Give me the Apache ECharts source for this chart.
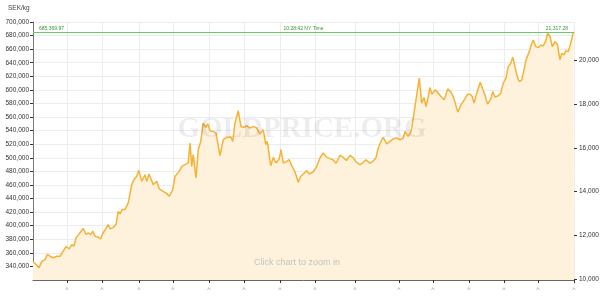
<!DOCTYPE html>
<html><head><meta charset="utf-8">
<script src="https://cdn.jsdelivr.net/npm/echarts@6/dist/echarts.min.js"></script>
<style>html,body{margin:0;padding:0;background:#fff}#c{width:602px;height:301px}</style>
</head><body><div id="c"></div>
<script>
// ---- data ----
const unitLabel = 'SEK/kg';
const timeText = '10:28:42 NY Time';
const currentKg = 685369.97;
const currentOz = 21317.28;
// day offsets from the start of the window
const days = [0,12,24,35,48,57,68,81,95,108,121,132,145,155,164,172,188,201,212,221,231,239,248,261,271,279,292,301,308,319,332,341,348,357,368,381,395,404,415,423,435,448,455,464,481,495,505,521,535,545,559,568,575,585,595,608,621,628,635,641,652,661,671,681,691,699,708,721,732,748,761,775,791,799,808,821,832,844,855,861,868,881,895,908,921,931,937,951,961,972,985,992,1001,1015,1025,1035,1048,1061,1071,1081,1095,1105,1121,1135,1148,1161,1175,1188,1200,1212,1228,1241,1254,1268,1281,1292,1308,1320,1332,1348,1360,1372,1381,1392,1401,1415,1428,1441,1455,1468,1481,1488,1495,1501,1512,1521,1531,1545,1555,1564,1572,1581,1588,1595,1608,1621,1632,1645,1659,1672,1681,1691,1699,1712,1725,1739,1748,1757,1764,1775,1781,1789,1798,1808,1818,1831,1839,1848,1861,1871,1881,1892,1901,1911,1919,1928,1937,1945,1955,1964,1972,1985,1995,2001,2011,2021,2031,2041,2051,2059,2068,2077,2088,2097,2108,2115,2124,2132,2141,2151,2160,2164];
// price, SEK per kg
const prices = [346900,343000,338000,347000,350000,357600,355000,352700,355000,355000,362500,369000,366000,372000,370000,382000,389500,395800,387000,389500,387000,392000,384500,383000,380700,388500,396000,401700,395400,396800,401700,421000,417400,423700,423700,433600,460500,467800,472700,481500,465300,475000,465300,476000,460500,465300,454200,450600,447200,443300,453000,472700,470300,480000,487400,490000,492400,521700,487400,504600,470300,511900,524100,551100,544700,550000,539800,538800,536400,503100,526600,530000,530600,524100,551100,569200,546200,544700,547200,549700,543800,546200,543800,535000,541300,519300,524100,488400,500600,492400,498700,511900,492400,494700,497200,488400,479100,463900,472700,476200,481100,476200,479100,487400,499700,507100,500600,498700,497000,492000,503500,500600,496000,503500,500000,494000,490000,493000,497000,492000,495000,500000,514400,524100,530000,520300,524100,528000,529100,526600,529100,538800,541300,531400,538800,558500,582900,617300,580500,588800,575500,590200,603500,593700,600000,595200,590200,585400,601500,596700,590200,578000,567300,578000,585400,593700,593700,590200,580500,595200,593700,611400,602000,592000,579000,586400,597600,589300,591300,595200,609900,617300,634300,639300,648100,634300,619600,612300,614800,629500,644200,656400,668700,673500,663800,662200,666200,664700,672500,683400,678400,663800,671000,667700,644200,654000,651500,657800,656400,668700,683400,685369.97];
// x-axis tick positions (days) and their labels
const xTicks = [136,276,424,560,704,844,988,1128,1288,1464,1600,1744,1884,2020,2164];
const xTickLabels = ['^','^','^','^','^','^','^','^','^','^','^','^','^','^','^'];
// right axis ticks (SEK/oz)
const ozTicks = [10000,12000,14000,16000,18000,20000];
const watermark = 'GOLDPRICE.ORG';
const hint = 'Click chart to zoom in';

const ratio = currentKg / currentOz;
const fmt = v => v.toLocaleString('en-US');
const fmt2 = v => v.toLocaleString('en-US', {minimumFractionDigits: 2, maximumFractionDigits: 2});
const seriesData = days.map((d, i) => [d, prices[i]]);
const FONT = 'Liberation Sans, Arial, sans-serif';

const chart = echarts.init(document.getElementById('c'), null, {renderer: 'canvas'});
chart.setOption({
  animation: false,
  backgroundColor: '#fff',
  grid: {left: 33, right: 28, top: 22, bottom: 21},
  xAxis: {
    type: 'value', min: 0, max: days[days.length - 1],
    axisLine: {lineStyle: {color: '#666', width: 1}},
    axisTick: {show: true, length: 3, customValues: xTicks, lineStyle: {color: '#333'}},
    axisLabel: {customValues: xTicks, formatter: (v) => xTickLabels[xTicks.indexOf(v)] || '',
      color: '#999', fontSize: 7, margin: 7, fontFamily: FONT},
    splitLine: {show: true, lineStyle: {color: '#ececec', width: 1}}
  },
  yAxis: [{
    type: 'value', position: 'left', min: 320000, max: 700000, interval: 20000,
    axisLine: {show: true, lineStyle: {color: '#777'}},
    axisTick: {show: true, length: 3, lineStyle: {color: '#333'}},
    axisLabel: {formatter: fmt, showMinLabel: false, color: '#333', fontSize: 6.5, margin: 4, fontFamily: FONT},
    splitLine: {show: true, lineStyle: {color: '#ececec', width: 1}}
  }, {
    type: 'value', position: 'right', min: 320000 / ratio, max: 700000 / ratio,
    axisLine: {show: false},
    axisTick: {show: true, length: 3, customValues: ozTicks, lineStyle: {color: '#333'}},
    axisLabel: {customValues: ozTicks, formatter: fmt, color: '#333', fontSize: 6.5, margin: 5, fontFamily: FONT},
    splitLine: {show: false}
  }],
  graphic: [
    {type: 'text', left: 8, top: 5, style: {text: unitLabel, fontSize: 6.5, fill: '#444', fontFamily: FONT}},
    {type: 'text', x: 302, y: 130, z: 100, silent: true, style: {text: watermark, fontSize: 29, fontWeight: 'bold',
      fontFamily: 'Liberation Serif, Times New Roman, serif', fill: 'rgba(0,0,0,0.07)', align: 'center', verticalAlign: 'middle'}},
    {type: 'text', x: 297, y: 263, z: 100, style: {text: hint, fontSize: 9, fill: '#c2c2c2', fontFamily: FONT, align: 'center', verticalAlign: 'middle'}}
  ],
  series: [{
    type: 'line', yAxisIndex: 0, data: seriesData, showSymbol: false, symbol: 'none',
    lineStyle: {color: '#f5b235', width: 1.5},
    areaStyle: {color: '#fef2dd', opacity: 1},
    markLine: {
      silent: true, symbol: 'none', animation: false,
      lineStyle: {color: '#66cc66', width: 1, type: 'solid'},
      label: {color: '#2f9a2f', fontSize: 5, fontFamily: FONT, distance: 1},
      data: [
        {yAxis: currentKg, label: {position: 'insideStartTop', formatter: fmt2(currentKg), distance: [6, 1]}},
        {yAxis: currentKg, label: {position: 'insideMiddleTop', formatter: timeText, distance: 1}},
        {yAxis: currentKg, label: {position: 'insideEndTop', formatter: fmt2(currentOz), distance: [6, 1]}}
      ]
    }
  }]
});
</script></body></html>
